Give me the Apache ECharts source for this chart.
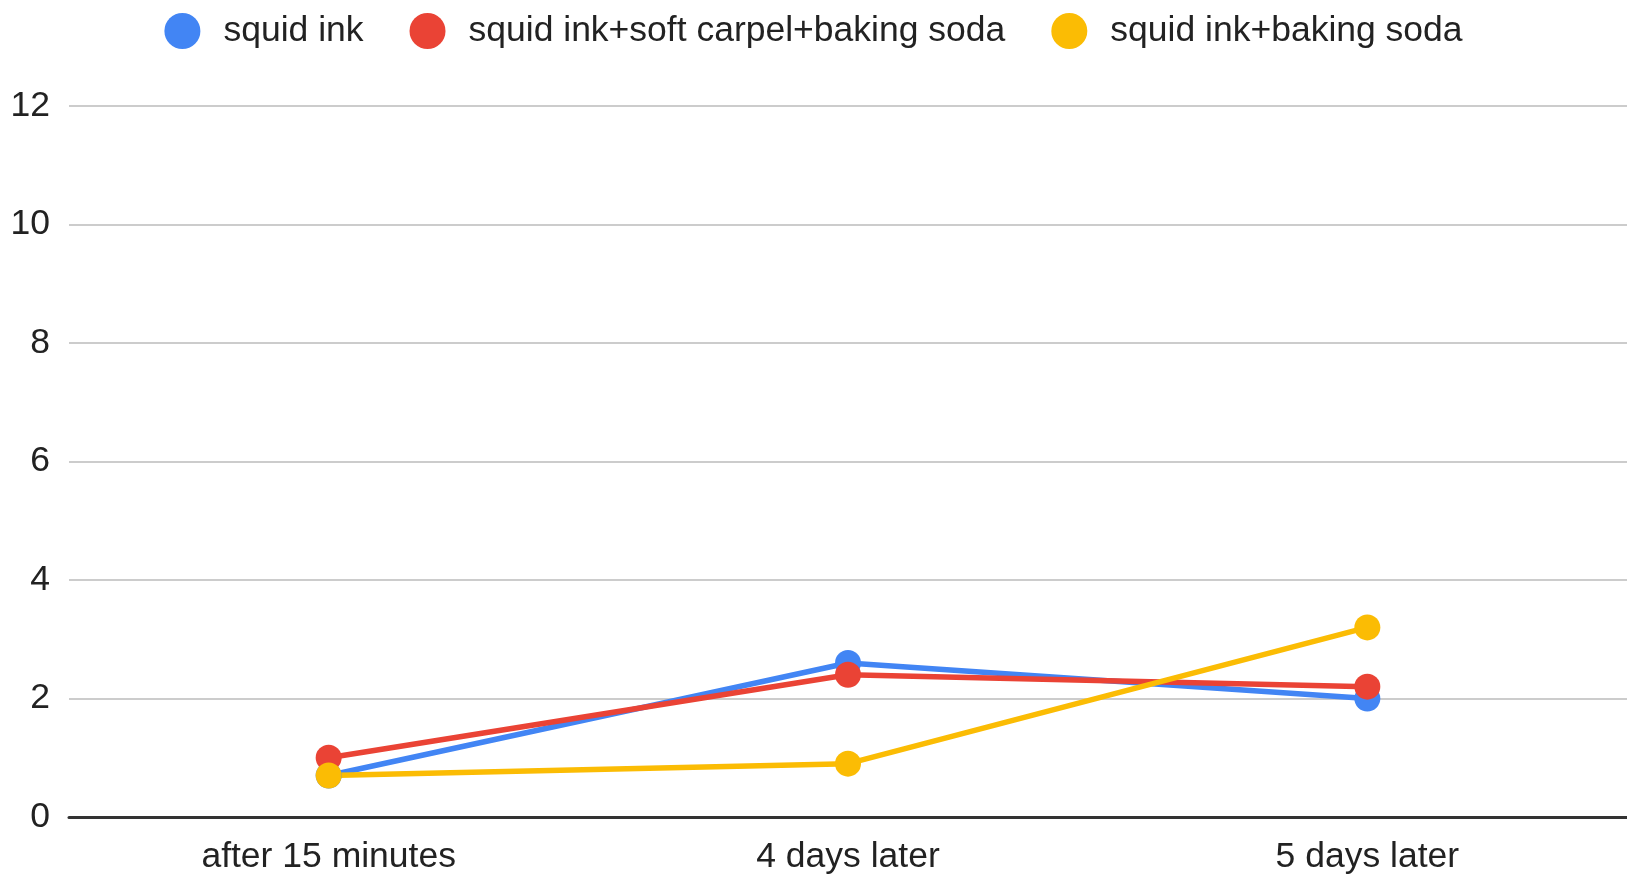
<!DOCTYPE html>
<html>
<head>
<meta charset="utf-8">
<script src="https://cdn.jsdelivr.net/npm/echarts@6/dist/echarts.min.js"></script>
<style>html,body{margin:0;padding:0;background:#fff}#c{width:1627px;height:875px}</style>
</head>
<body>
<div id="c"></div>
<script>
const categories = ['after 15 minutes', '4 days later', '5 days later'];
const seriesNames = ['squid ink', 'squid ink+soft carpel+baking soda', 'squid ink+baking soda'];
const squidInk = [0.7, 2.6, 2.0];
const squidInkSoftCarpelBakingSoda = [1.0, 2.4, 2.2];
const squidInkBakingSoda = [0.7, 0.9, 3.2];
const colors = ['#4285F4', '#EA4335', '#FBBC04'];
const yTicks = { min: 0, max: 12, interval: 2 };

const font = 'Liberation Sans, Arial, sans-serif';
const chart = echarts.init(document.getElementById('c'));
const dataSets = [squidInk, squidInkSoftCarpelBakingSoda, squidInkBakingSoda];
chart.setOption({
  animation: false,
  color: colors,
  legend: {
    top: 8,
    left: 'center',
    icon: 'circle',
    itemWidth: 36,
    itemHeight: 36,
    itemGap: 46,
    textStyle: { fontFamily: font, fontSize: 35.5, color: '#222', padding: [0, 0, 0, 18] },
    data: seriesNames
  },
  grid: { left: 69, right: -6, top: 106, bottom: 57, containLabel: false },
  xAxis: {
    type: 'category',
    data: categories,
    boundaryGap: true,
    axisLine: { lineStyle: { color: '#333', width: 3 } },
    axisTick: { show: false },
    axisLabel: { fontFamily: font, fontSize: 35.5, color: '#222', margin: 22 }
  },
  yAxis: {
    type: 'value',
    min: yTicks.min,
    max: yTicks.max,
    interval: yTicks.interval,
    axisLine: { show: false },
    axisTick: { show: false },
    splitLine: { lineStyle: { color: '#cccccc', width: 2 } },
    axisLabel: { fontFamily: font, fontSize: 35.5, color: '#222', margin: 19 }
  },
  series: seriesNames.map((n, i) => ({
    name: n,
    type: 'line',
    data: dataSets[i],
    symbol: 'circle',
    symbolSize: 26,
    lineStyle: { width: 5.5, color: colors[i] },
    itemStyle: { color: colors[i] }
  }))
});
</script>
</body>
</html>
